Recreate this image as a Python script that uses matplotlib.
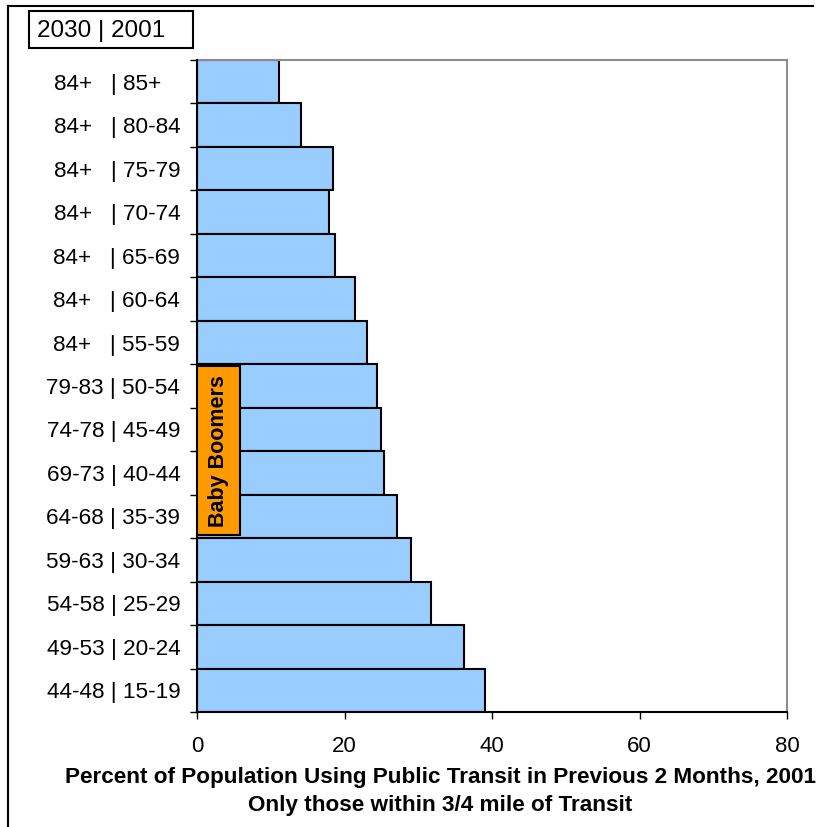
import matplotlib
matplotlib.use("Agg")
import matplotlib.pyplot as plt
from matplotlib.patches import Rectangle
from matplotlib.lines import Line2D

plt.rcParams["font.family"] = ["Liberation Sans", "DejaVu Sans"]

# age groups, 2030 cohort | 2001 cohort (top to bottom)
labels = [
    "84+   | 85+   ", "84+   | 80-84", "84+   | 75-79", "84+   | 70-74",
    "84+   | 65-69", "84+   | 60-64", "84+   | 55-59", "79-83 | 50-54",
    "74-78 | 45-49", "69-73 | 40-44", "64-68 | 35-39", "59-63 | 30-34",
    "54-58 | 25-29", "49-53 | 20-24", "44-48 | 15-19",
]
transit_pct = [11.1, 14.1, 18.4, 17.9, 18.7, 21.4, 23.1, 24.4,
               24.9, 25.4, 27.1, 29.0, 31.7, 36.2, 39.0]
boomer_groups = ["79-83 | 50-54", "64-68 | 35-39"]
boomer_width = 5.8

W, H = 818, 827
fig = plt.figure(figsize=(W / 100, H / 100), dpi=100)
ax = fig.add_axes([197 / W, 1 - 712 / H, 590 / W, 652 / H])

y = list(range(len(labels)))
ax.barh(y, transit_pct, height=1.0, color="#99CCFF", edgecolor="black",
        linewidth=1.5, zorder=2)
ax.set_ylim(len(labels) - 0.5, -0.5)
ax.set_xlim(0, 80)

# ticks on category boundaries, labels at bar centres
ax.set_yticks([i - 0.5 for i in range(len(labels) + 1)])
ax.set_yticklabels([])
ax.set_yticks(y, minor=True)
ax.set_yticklabels(labels, minor=True, fontsize=16.2)
ax.tick_params(axis="y", which="minor", length=0, pad=12)
ax.tick_params(axis="y", which="major", length=5, width=1, direction="out")
ax.set_xticks([0, 20, 40, 60, 80])
ax.tick_params(axis="x", length=5, width=1, direction="out", labelsize=16, pad=12)

for s in ["top", "right"]:
    ax.spines[s].set_color("#8C8C8C")
    ax.spines[s].set_linewidth(1.5)
for s in ["left", "bottom"]:
    ax.spines[s].set_color("black")
    ax.spines[s].set_linewidth(1.5)
    ax.spines[s].set_zorder(3)

# baby boomer cohort marker
b0 = labels.index(boomer_groups[0])
b1 = labels.index(boomer_groups[1])
ax.add_patch(Rectangle((0, b0 - 0.46), boomer_width, (b1 - b0) + 0.88,
                       facecolor="#FF9900", edgecolor="black", linewidth=1.5,
                       zorder=4))
ax.text(boomer_width / 2, (b0 + b1) / 2, "Baby Boomers", rotation=90,
        ha="center", va="center", fontsize=15.5, fontweight="bold", zorder=5)

# header box
fig.add_artist(Rectangle((29 / W, 1 - 48 / H), 164 / W, 37 / H,
                         facecolor="white", edgecolor="black", linewidth=1.5,
                         transform=fig.transFigure))
fig.text(37 / W, 1 - 31 / H, "2030 | 2001", fontsize=17.5, ha="left", va="center")

fig.text(440 / W, 1 - 778 / H,
         "Percent of Population Using Public Transit in Previous 2 Months, 2001",
         fontsize=16.2, fontweight="bold", ha="center", va="center")
fig.text(440 / W, 1 - 806 / H, "Only those within 3/4 mile of Transit",
         fontsize=16.2, fontweight="bold", ha="center", va="center")

# outer frame (top and left edges)
fig.add_artist(Line2D([8 / W, 813 / W], [1 - 6 / H, 1 - 6 / H],
                      color="black", linewidth=1.5, transform=fig.transFigure))
fig.add_artist(Line2D([8 / W, 8 / W], [1 - 6 / H, 0],
                      color="black", linewidth=1.5, transform=fig.transFigure))

fig.savefig("out.png", dpi=100, facecolor="white")
